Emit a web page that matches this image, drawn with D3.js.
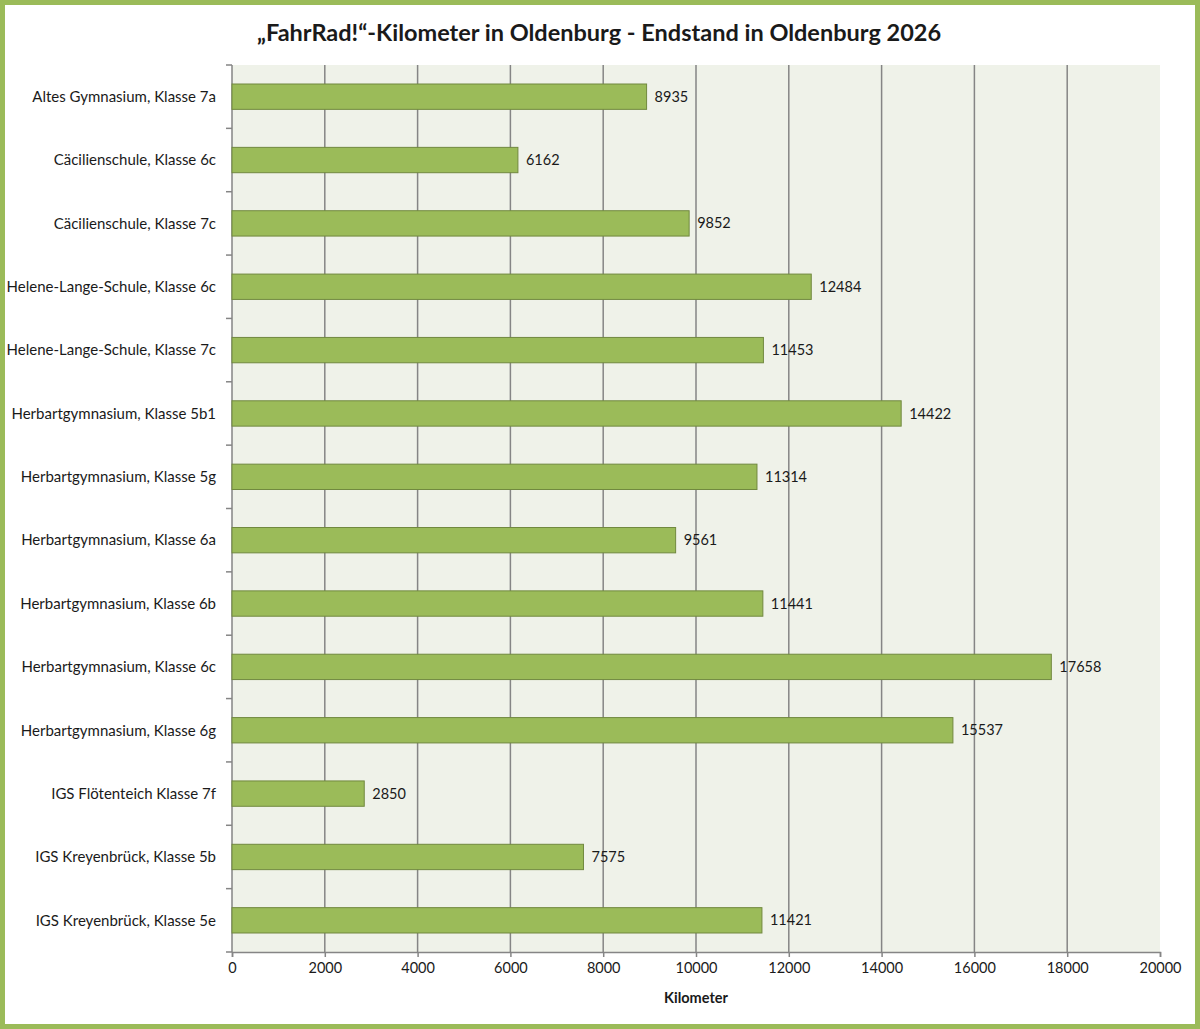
<!DOCTYPE html>
<html>
<head>
<meta charset="utf-8">
<script src="https://cdn.jsdelivr.net/npm/d3@7"></script>
<style>
  body { margin: 0; background: #fff; }
  svg text { font-family: Lato, "Open Sans", sans-serif; fill: #1a1a1a; }
</style>
</head>
<body>
<svg width="1200" height="1029"></svg>
<script>
const classes = [
  "Altes Gymnasium, Klasse 7a",
  "Cäcilienschule, Klasse 6c",
  "Cäcilienschule, Klasse 7c",
  "Helene-Lange-Schule, Klasse 6c",
  "Helene-Lange-Schule, Klasse 7c",
  "Herbartgymnasium, Klasse 5b1",
  "Herbartgymnasium, Klasse 5g",
  "Herbartgymnasium, Klasse 6a",
  "Herbartgymnasium, Klasse 6b",
  "Herbartgymnasium, Klasse 6c",
  "Herbartgymnasium, Klasse 6g",
  "IGS Flötenteich Klasse 7f",
  "IGS Kreyenbrück, Klasse 5b",
  "IGS Kreyenbrück, Klasse 5e"
];
const kilometers = [8935, 6162, 9852, 12484, 11453, 14422, 11314, 9561, 11441, 17658, 15537, 2850, 7575, 11421];
const xTicks = [0, 2000, 4000, 6000, 8000, 10000, 12000, 14000, 16000, 18000, 20000];

const svg = d3.select("svg"),
      margin = {top: 65, right: 40, bottom: 77, left: 232},
      width = +svg.attr("width") - margin.left - margin.right,
      height = +svg.attr("height") - margin.top - margin.bottom;

const data = classes.map((c, i) => ({name: c, km: kilometers[i]}));

// green frame
svg.append("rect")
  .attr("x", 2.5).attr("y", 2.5)
  .attr("width", 1195).attr("height", 1024)
  .attr("fill", "#fff")
  .attr("stroke", "#9bbb59")
  .attr("stroke-width", 5);

svg.append("text")
  .attr("x", 599)
  .attr("y", 41)
  .attr("text-anchor", "middle")
  .style("font-size", "23.5px")
  .style("font-weight", "bold")
  .text("„FahrRad!“-Kilometer in Oldenburg - Endstand in Oldenburg 2026");

const g = svg.append("g").attr("transform", `translate(${margin.left},${margin.top})`);

const x = d3.scaleLinear().domain([0, 20000]).range([0, width]);
const y = d3.scaleBand()
  .domain(classes)
  .range([0, height])
  .paddingInner(0.6)
  .paddingOuter(0.3);

// plot background
g.append("rect")
  .attr("width", width)
  .attr("height", height)
  .attr("fill", "#eff2e9");

// gridlines
g.append("g")
  .selectAll("line")
  .data(xTicks.filter(t => t > 0 && t < 20000))
  .join("line")
  .attr("x1", d => x(d)).attr("x2", d => x(d))
  .attr("y1", 0).attr("y2", height)
  .attr("stroke", "#858585")
  .attr("stroke-width", 1.5);

// X-axis
const xAxis = g.append("g")
  .attr("transform", `translate(0,${height})`)
  .call(d3.axisBottom(x).tickValues(xTicks).tickSize(5).tickPadding(6).tickFormat(d3.format("d")));
xAxis.select(".domain").attr("stroke", "#858585").attr("stroke-width", 1.5);
xAxis.selectAll(".tick line").attr("stroke", "#858585").attr("stroke-width", 1.5);
xAxis.selectAll("text").style("font-size", "14.5px").attr("fill", "#1a1a1a");

// Y-axis line with ticks at category boundaries
g.append("line")
  .attr("x1", 0).attr("x2", 0)
  .attr("y1", 0).attr("y2", height)
  .attr("stroke", "#858585")
  .attr("stroke-width", 1.5);

g.append("g")
  .selectAll("line")
  .data(d3.range(classes.length + 1))
  .join("line")
  .attr("x1", -6).attr("x2", 0)
  .attr("y1", i => i * y.step()).attr("y2", i => i * y.step())
  .attr("stroke", "#858585")
  .attr("stroke-width", 1.5);

g.append("g")
  .selectAll("text")
  .data(classes)
  .join("text")
  .attr("x", -16)
  .attr("y", d => y(d) + y.bandwidth() / 2)
  .attr("dy", "0.35em")
  .attr("text-anchor", "end")
  .style("font-size", "15px")
  .text(d => d);

// bars
g.selectAll("rect.bar")
  .data(data)
  .join("rect")
  .attr("class", "bar")
  .attr("x", 0)
  .attr("y", d => y(d.name))
  .attr("width", d => x(d.km))
  .attr("height", y.bandwidth())
  .attr("fill", "#9bbb59")
  .attr("stroke", "#71893f")
  .attr("stroke-width", 1);

// value labels
g.selectAll("text.value")
  .data(data)
  .join("text")
  .attr("class", "value")
  .attr("x", d => x(d.km) + 8)
  .attr("y", d => y(d.name) + y.bandwidth() / 2)
  .attr("dy", "0.35em")
  .style("font-size", "14.5px")
  .text(d => d.km);

svg.append("text")
  .attr("x", margin.left + width / 2)
  .attr("y", 1003)
  .attr("text-anchor", "middle")
  .style("font-size", "14.5px")
  .style("font-weight", "bold")
  .text("Kilometer");
</script>
</body>
</html>
